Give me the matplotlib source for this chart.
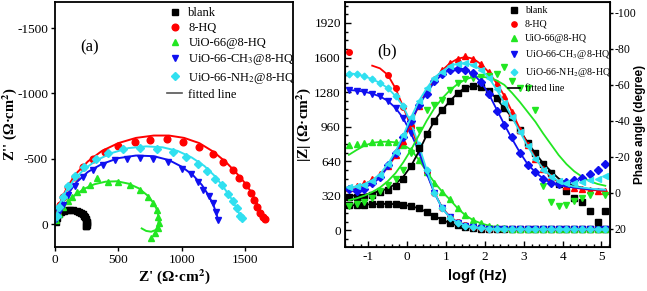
import matplotlib
matplotlib.use('Agg')
import matplotlib.pyplot as plt
from matplotlib.ticker import AutoMinorLocator
from matplotlib.lines import Line2D

plt.rcParams['font.family'] = 'Liberation Serif'
plt.rcParams['mathtext.fontset'] = 'stix'
plt.rcParams['axes.unicode_minus'] = False

names = ['blank', '8-HQ', 'UiO-66@8-HQ', 'UiO-66-CH$_3$@8-HQ', 'UiO-66-NH$_2$@8-HQ']
colors = ['black', '#ff0000', '#22e622', '#1010f0', '#30e0f0']
marks = ['s', 'o', '^', 'v', 'D']
phase_marks = ['s', '^', 'v', 'D', '<']

# ---- (a) Nyquist data ----
zre_blank = [5, 15, 30, 50, 70, 95, 120, 145, 170, 190, 207, 220, 230, 238, 243, 247, 249, 250, 249, 247, 245]
zim_blank = [-20, -50, -75, -93, -103, -108, -110, -108, -103, -96, -87, -77, -66, -54, -42, -30, -18, -6, 4, 12, 18]
zre_blank_fit = [2, 10, 25, 45, 70, 100, 130, 160, 185, 205, 222, 235, 243, 248, 250, 249]
zim_blank_fit = [-5, -40, -68, -90, -104, -110, -110, -104, -94, -82, -67, -50, -33, -16, 0, 12]

zre_hq = [18, 40, 66, 105, 158, 224, 303, 395, 500, 632, 750, 882, 1014, 1140, 1246, 1330, 1404, 1456, 1509, 1546, 1572, 1593, 1620, 1640, 1659]
zim_hq = [-82, -145, -208, -285, -361, -437, -501, -552, -595, -628, -641, -654, -628, -590, -534, -475, -412, -353, -298, -239, -188, -132, -82, -55, -36]
zre_hq_fit = [5, 20, 50, 100, 170, 260, 370, 500, 640, 780, 900, 1020, 1140, 1250, 1350, 1430, 1500, 1550, 1590, 1620, 1645, 1665]
zim_hq_fit = [-20, -100, -190, -290, -390, -480, -560, -620, -660, -678, -678, -660, -620, -555, -475, -395, -315, -245, -170, -105, -55, -25]

zre_uio = [10, 30, 60, 100, 132, 175, 224, 280, 329, 421, 500, 592, 672, 737, 777, 803, 816, 818, 810, 790, 760]
zim_uio = [-30, -80, -130, -180, -208, -245, -272, -300, -356, -325, -323, -298, -259, -208, -158, -107, -56, -5, 33, 71, 109]
zre_uio_fit = [5, 20, 50, 100, 160, 230, 310, 400, 490, 580, 660, 730, 780, 810, 820, 815, 795, 760, 720, 685]
zim_uio_fit = [-15, -60, -110, -170, -225, -270, -305, -325, -328, -310, -275, -220, -160, -100, -40, 10, 45, 58, 52, 33]

zre_ch3 = [10, 30, 66, 105, 158, 224, 303, 382, 474, 566, 672, 777, 895, 1001, 1072, 1132, 1172, 1219, 1246, 1272, 1290]
zim_ch3 = [-40, -90, -150, -220, -290, -360, -412, -450, -488, -501, -505, -501, -475, -425, -387, -323, -265, -214, -158, -94, -31]
zre_ch3_fit = [5, 20, 50, 100, 170, 260, 370, 500, 640, 780, 900, 1000, 1090, 1160, 1210, 1250, 1275, 1290]
zim_ch3_fit = [-20, -80, -150, -230, -320, -400, -460, -505, -525, -520, -490, -440, -375, -300, -225, -150, -80, -25]

zre_nh2 = [12, 30, 60, 100, 160, 230, 320, 420, 540, 672, 803, 935, 1035, 1132, 1203, 1264, 1317, 1369, 1409, 1435, 1462, 1475]
zim_nh2 = [-60, -130, -210, -290, -370, -440, -500, -545, -572, -580, -578, -552, -514, -463, -407, -349, -298, -234, -178, -120, -61, -45]
zre_nh2_fit = [3, 15, 40, 85, 150, 230, 330, 450, 580, 720, 850, 970, 1080, 1180, 1260, 1330, 1390, 1430, 1460, 1478]
zim_nh2_fit = [-15, -80, -160, -250, -340, -420, -490, -545, -582, -595, -588, -560, -510, -445, -370, -285, -200, -130, -70, -35]

# ---- (b) Bode data ----
logf = [-1.5, -1.3, -1.1, -0.9, -0.7, -0.5, -0.3, -0.1, 0.1, 0.3, 0.5, 0.7, 0.9, 1.1, 1.3, 1.5, 1.7,
        1.9, 2.1, 2.3, 2.5, 2.7, 2.9, 3.1, 3.3, 3.5, 3.7, 3.9, 4.1, 4.3, 4.5, 4.7, 4.9, 5.1]
nan = float('nan')

zmod_blank = [232, 236, 240, 243, 245, 246, 244, 238, 228, 205, 172, 135, 97, 68, 46, 30, 22, 17, 14, 12, 11, 10,
              10, 10, 10, 10, 10, 10, 10, 10, 10, 10, 10, 10]
zmod_hq = [1654, nan, nan, nan, nan, 1440, 1315, 1140, 960, 760, 540, 350, 210, 125, 75, 46, 31, 23, 17, 14, 12, 11,
           11, 10, 10, 10, 10, 10, 10, 10, 10, 10, 10, 10]
zmod_uio = [790, 800, 810, 818, 822, 822, 815, 790, 740, 650, 540, 440, 360, 290, 210, 145, 98, 68, 45, 32, 24, 18,
            15, 13, 12, 12, 12, 12, 12, 12, 12, 12, 12, 12]
zmod_ch3 = [1298, 1293, 1285, 1266, 1240, 1200, 1135, 1040, 900, 730, 530, 345, 205, 120, 70, 44, 30, 22, 17, 14, 12,
            11, 11, 10, 10, 10, 10, 10, 10, 10, 10, 10, 10, 10]
zmod_nh2 = [1452, 1445, 1425, 1400, 1365, 1320, 1245, 1150, 995, 790, 560, 350, 205, 118, 70, 44, 30, 22, 17, 14, 12,
            11, 11, 10, 10, 10, 10, 10, 10, 10, 10, 10, 10, 10]

zmod_blank_fit = [230, 235, 239, 243, 245, 246, 244, 237, 226, 204, 172, 135, 98, 68, 46, 31, 22, 17, 14, 12, 11, 10,
                  10, 10, 10, 10, 10, 10, 10, 10, 10, 10, 10, 10]
zmod_hq_fit = [nan, nan, nan, 1525, 1500, 1440, 1315, 1140, 958, 758, 542, 352, 212, 126, 76, 47, 31, 23, 17, 14, 12,
               11, 11, 10, 10, 10, 10, 10, 10, 10, 10, 10, 10, 10]
zmod_uio_fit = [700, 745, 785, 810, 820, 822, 815, 795, 745, 655, 545, 445, 360, 285, 205, 140, 95, 66, 45, 32, 24, 19,
                16, 14, 13, 12, 12, 12, 12, 12, 12, 12, 12, 12]
zmod_ch3_fit = [1300, 1294, 1284, 1266, 1240, 1200, 1134, 1038, 898, 728, 530, 347, 207, 121, 71, 44, 30, 22, 17, 14,
                12, 11, 11, 10, 10, 10, 10, 10, 10, 10, 10, 10, 10, 10]
zmod_nh2_fit = [1455, 1446, 1426, 1400, 1365, 1318, 1244, 1148, 993, 790, 562, 352, 206, 119, 71, 44, 30, 22, 17, 14,
                12, 11, 11, 10, 10, 10, 10, 10, 10, 10, 10, 10, 10, 10]

ph_blank = [2.5, 2.5, 2.0, 1.0, -0.5, -1.5, -4, -8, -15, -25, -33, -40, -46, -51, -55.5, -58.5, -59.5, -59, -56.5,
            -52.5, -47, -42, -35, -28, -22, -16, -11, -5, -1, 3, 5, 10, 16, 10]
ph_hq = [-3, -4, -5.5, -7.5, -10.5, -15, -21, -29, -39, -48.5, -56.5, -63, -68, -72, -74.5, -76, -74.5, -71.5, -67,
         -61, -54, -45, -35, -26.5, -19, -13.5, -9, -6, -4, -3, -2, -1.5, -1, -1]
ph_uio = [7.5, 6, 5, 3, -1, -4.3, -8, -13, -22, -35, -46, -49, -51.5, -57, -61, -63.5, -64, -64.5, -65, -66, -70, -62,
          -58, -58, -46, -4, 5, 7.5, 6.5, 4.5, 3, 1, nan, 1]
ph_ch3 = [-2.4, -1.2, -2.4, -5.5, -9, -15.5, -22, -31, -40, -49, -55, -62, -66, -68.5, -69, -68.5, -66.5, -61.5, -55,
          -45.5, -37.5, -31, -22, -15.5, -11.5, -8, -5.5, -5, -6, -7, -8.5, -10.5, -12.5, -16]
ph_nh2 = [-3.5, -4, -4.5, -6.5, -10, -16, -23, -32, -42, -51, -58, -64, -67, -70.5, -71.5, -72, -71, -68.5, -64,
          -57.5, -50, -42, -34, -26, -19, -13, -9, -6.5, -5.5, -5.5, -6, -7, -8, -9.5]

ph_blank_fit = [1.5, 1.5, 1, 0, -1, -2.5, -5, -9, -15, -23, -32, -40, -46, -51, -55.5, -58.5, -59.5, -59, -56.5,
                -52.5, -47, -42, -35, -28, -22, -16.5, -12, -8, -5.5, -4, -3, -2, -1.5, -1.2]
ph_hq_fit = [-2.5, -3.5, -5, -7, -10, -14.5, -20.5, -29, -39, -48.5, -56.5, -63, -68, -72, -74.5, -75.5, -74.5, -71.5,
             -67, -61, -54, -45, -35.5, -27, -19.5, -13.5, -9, -6, -4, -3, -2.2, -1.7, -1.4, -1.2]
ph_uio_fit = [4, 3, 1.5, -0.5, -3, -6.5, -11, -17, -24, -32, -40, -47, -52.5, -57, -60.5, -63, -64.5, -64.5, -64,
              -62.5, -60, -55.5, -50.5, -45, -39.5, -33, -27, -21, -16, -12, -9, -6.5, -5, -4]
ph_ch3_fit = [-1.5, -2, -3, -5, -8.5, -14.5, -22, -31, -40, -48.5, -55.5, -61.5, -66, -68.5, -69.3, -68.5, -66, -61.5,
              -55, -46.5, -38, -30, -22.5, -16, -11.5, -8, -5.5, -4.5, -3.5, -3, -2.5, -2, -2, -1.7]
ph_nh2_fit = [-2.5, -3.5, -5, -7, -10.5, -16, -23, -32, -42, -51, -58, -64, -67.5, -70.5, -71.8, -72, -71, -68.5,
              -64, -57.5, -50, -42, -34, -26, -19, -13.5, -9.5, -6.5, -4.5, -3.5, -3, -2.5, -2, -1.8]

fig = plt.figure(figsize=(6.47, 2.91), dpi=100)

# ---------------- (a) ----------------
ax1 = fig.add_axes([55 / 647, 44 / 291, 238 / 647, 245 / 291])
nyq_pts = [(zre_blank, zim_blank), (zre_hq, zim_hq), (zre_uio, zim_uio), (zre_ch3, zim_ch3), (zre_nh2, zim_nh2)]
nyq_fit = [(zre_blank_fit, zim_blank_fit), (zre_hq_fit, zim_hq_fit), (zre_uio_fit, zim_uio_fit),
           (zre_ch3_fit, zim_ch3_fit), (zre_nh2_fit, zim_nh2_fit)]
for (x, y), (xf, yf), c, m, n in zip(nyq_pts, nyq_fit, colors, marks, names):
    ax1.plot(xf, yf, '-', color=c, lw=1.4)
    ax1.plot(x, y, m, color=c, ms=4.8 if m != 'D' else 4, ls='none', label=n)
ax1.plot([], [], '-', color='#555555', lw=1.2, label='fitted line')

ax1.set_xlim(0, 1880)
ax1.set_ylim(175, -1700)
ax1.set_xticks([0, 500, 1000, 1500])
ax1.set_yticks([0, -500, -1000, -1500])
ax1.tick_params(direction='out', length=3, width=1, labelsize=9.5, pad=2)
for s in ax1.spines.values():
    s.set_linewidth(1.3)
ax1.set_xlabel("Z' (Ω·cm$^\\mathbf{2}$)", fontsize=11, fontweight='bold', labelpad=1)
ax1.set_ylabel("Z'' (Ω·cm$^\\mathbf{2}$)", fontsize=10.5, fontweight='bold')
ax1.yaxis.set_label_coords(-0.152, 0.5)
ax1.text(0.105, 0.816, '(a)', transform=ax1.transAxes, fontsize=12, va='center')
ax1.legend(loc='upper left', bbox_to_anchor=(0.45, 1.0), frameon=False, fontsize=9,
           handlelength=1.2, handletextpad=0.5, labelspacing=0.25, borderaxespad=0.2, borderpad=0.2)

# ---------------- (b) ----------------
ax2 = fig.add_axes([345 / 647, 44 / 291, 265 / 647, 245 / 291])
ax3 = ax2.twinx()
mods = [zmod_blank, zmod_hq, zmod_uio, zmod_ch3, zmod_nh2]
mods_fit = [zmod_blank_fit, zmod_hq_fit, zmod_uio_fit, zmod_ch3_fit, zmod_nh2_fit]
phs = [ph_blank, ph_hq, ph_uio, ph_ch3, ph_nh2]
phs_fit = [ph_blank_fit, ph_hq_fit, ph_uio_fit, ph_ch3_fit, ph_nh2_fit]
for i in range(5):
    ms = 4 if marks[i] != 'D' else 3.4
    ax2.plot(logf, mods_fit[i], '-', color=colors[i], lw=1.3)
    ax2.plot(logf, mods[i], marks[i], color=colors[i], ms=ms, ls='none')
    ax3.plot(logf, phs_fit[i], '-', color=colors[i], lw=1.3)
    ax3.plot(logf, phs[i], phase_marks[i], color=colors[i], ms=4 if phase_marks[i] != 'D' else 3.6, ls='none')

ax2.set_xlim(-1.6, 5.22)
ax2.set_ylim(-153, 2114)
ax2.set_yticks([0, 320, 640, 960, 1280, 1600, 1920])
ax2.set_xticks([-1, 0, 1, 2, 3, 4, 5])
ax2.xaxis.set_minor_locator(AutoMinorLocator(5))
ax2.yaxis.set_minor_locator(AutoMinorLocator(4))
ax2.tick_params(which='both', direction='in', width=1, labelsize=9.5, pad=3)
ax2.tick_params(which='major', length=4)
ax2.tick_params(which='minor', length=2)
ax3.set_ylim(30, -106)
ax3.set_yticks([20, 0, -20, -40, -60, -80, -100])
ax3.tick_params(direction='out', length=2.5, width=1, labelsize=8.5, pad=1)
for s in ax3.spines.values():
    s.set_linewidth(1.3)
ax2.set_xlabel('logf (Hz)', fontsize=10.5, fontweight='bold', family='Liberation Sans', labelpad=4)
ax2.set_ylabel('|Z| (Ω·cm$^\\mathbf{2}$)', fontsize=11, fontweight='bold')
ax2.yaxis.set_label_coords(-0.12, 0.5)
ax3.set_ylabel('Phase angle (degree)', fontsize=8.5, fontweight='bold', family='Liberation Sans')
ax3.yaxis.set_label_coords(1.092, 0.5)
ax3.text(0.12, 0.80, '(b)', transform=ax3.transAxes, fontsize=12, va='center')

handles = [Line2D([], [], marker=marks[i], color=colors[i], ls='none', ms=3.8 if marks[i] != 'D' else 3.4)
           for i in range(5)]
handles.append(Line2D([], [], color='black', lw=1.2))
ax3.legend(handles, names + ['fitted line'], loc='upper left', bbox_to_anchor=(0.6, 1.0), frameon=False,
           fontsize=7.2, handlelength=1.2, handletextpad=0.5, labelspacing=0.5, borderaxespad=0.2, borderpad=0.2)

fig.savefig('out.png', dpi=100)
